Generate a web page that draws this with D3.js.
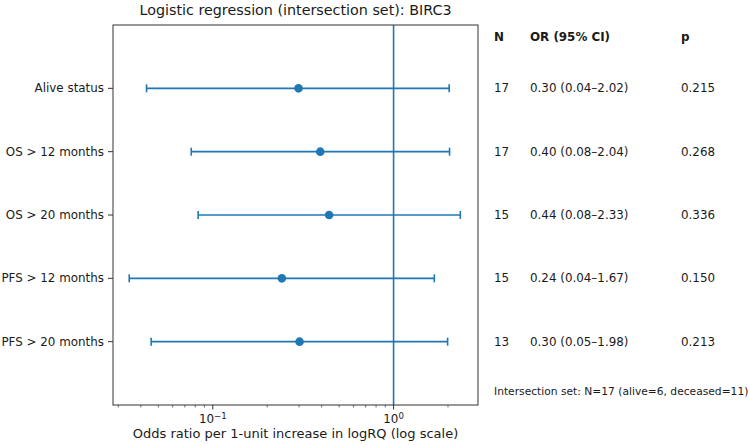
<!DOCTYPE html>
<html>
<head>
<meta charset="utf-8">
<script src="https://cdn.jsdelivr.net/npm/d3@7"></script>
<style>
  body { margin: 0; background: #fff; }
  text { font-family: "DejaVu Sans", sans-serif; fill: #1a1a1a; }
</style>
</head>
<body>
<svg id="chart"></svg>
<script>
let width = 750;
let height = 445;

// outcomes, top to bottom
let outcomes = ["Alive status", "OS > 12 months", "OS > 20 months", "PFS > 12 months", "PFS > 20 months"];
let orValues = [0.298, 0.393, 0.44, 0.241, 0.302];
let ciLow = [0.043, 0.076, 0.083, 0.0345, 0.0456];
let ciHigh = [2.03, 2.04, 2.34, 1.68, 1.99];
let nValues = ["17", "17", "15", "15", "13"];
let orText = ["0.30 (0.04–2.02)", "0.40 (0.08–2.04)", "0.44 (0.08–2.33)", "0.24 (0.04–1.67)", "0.30 (0.05–1.98)"];
let pText = ["0.215", "0.268", "0.336", "0.150", "0.213"];
let majorTicks = [0.1, 1];
let minorTicks = [0.03, 0.04, 0.05, 0.06, 0.07, 0.08, 0.09, 0.2, 0.3, 0.4, 0.5, 0.6, 0.7, 0.8, 0.9, 2];

let blue = "#1f77b4";
let plot = {left: 113, right: 478, top: 25, bottom: 405};

let svg = d3.select("#chart")
    .attr("width", width)
    .attr("height", height);

let x = d3.scaleLog()
    .domain([Math.pow(10, -1.552), Math.pow(10, 0.467)])
    .range([plot.left, plot.right]);

let y = d3.scaleLinear()
    .domain([-1, outcomes.length])
    .range([plot.top, plot.bottom]);

// title
svg.append("text")
    .attr("x", (plot.left + plot.right) / 2)
    .attr("y", 14.5)
    .attr("text-anchor", "middle")
    .style("font-size", "14.3px")
    .text("Logistic regression (intersection set): BIRC3");

// reference line at OR = 1
svg.append("line")
    .attr("x1", x(1)).attr("x2", x(1))
    .attr("y1", plot.top).attr("y2", plot.bottom)
    .attr("stroke", blue)
    .attr("stroke-width", 1.6);

// error bars
let rows = svg.append("g").selectAll("g")
    .data(outcomes)
    .join("g")
    .attr("transform", (d, i) => `translate(0,${y(i)})`);

rows.append("line")
    .attr("x1", (d, i) => x(ciLow[i]))
    .attr("x2", (d, i) => x(ciHigh[i]))
    .attr("stroke", blue)
    .attr("stroke-width", 1.6);

rows.selectAll(".cap")
    .data((d, i) => [ciLow[i], ciHigh[i]])
    .join("line")
    .attr("class", "cap")
    .attr("x1", d => x(d)).attr("x2", d => x(d))
    .attr("y1", -4).attr("y2", 4)
    .attr("stroke", blue)
    .attr("stroke-width", 1.6);

rows.append("circle")
    .attr("cx", (d, i) => x(orValues[i]))
    .attr("r", 4.3)
    .attr("fill", blue);

// frame
svg.append("rect")
    .attr("x", plot.left)
    .attr("y", plot.top)
    .attr("width", plot.right - plot.left)
    .attr("height", plot.bottom - plot.top)
    .attr("fill", "none")
    .attr("stroke", "#333")
    .attr("stroke-width", 1);

// y ticks + labels
let yAxis = svg.append("g");
yAxis.selectAll("line")
    .data(outcomes)
    .join("line")
    .attr("x1", plot.left - 5).attr("x2", plot.left)
    .attr("y1", (d, i) => y(i)).attr("y2", (d, i) => y(i))
    .attr("stroke", "#333");
yAxis.selectAll("text")
    .data(outcomes)
    .join("text")
    .attr("x", plot.left - 9)
    .attr("y", (d, i) => y(i))
    .attr("dy", "0.35em")
    .attr("text-anchor", "end")
    .style("font-size", "11.9px")
    .text(d => d);

// x axis: major and minor ticks
let xAxis = svg.append("g");
xAxis.selectAll(".minor")
    .data(minorTicks)
    .join("line")
    .attr("class", "minor")
    .attr("x1", d => x(d)).attr("x2", d => x(d))
    .attr("y1", plot.bottom).attr("y2", plot.bottom + 2.5)
    .attr("stroke", "#333")
    .attr("stroke-width", 0.7);
xAxis.selectAll(".major")
    .data(majorTicks)
    .join("line")
    .attr("class", "major")
    .attr("x1", d => x(d)).attr("x2", d => x(d))
    .attr("y1", plot.bottom).attr("y2", plot.bottom + 4.5)
    .attr("stroke", "#333");
let tickLabels = xAxis.selectAll(".ticklabel")
    .data(majorTicks)
    .join("text")
    .attr("class", "ticklabel")
    .attr("x", d => x(d))
    .attr("y", plot.bottom + 18)
    .attr("text-anchor", "middle")
    .style("font-size", "11.9px");
tickLabels.append("tspan").text("10");
tickLabels.append("tspan")
    .attr("dy", "-0.45em")
    .style("font-size", "8.6px")
    .text(d => d3.format("d")(Math.log10(d)).replace("-", "−"));

svg.append("text")
    .attr("x", (plot.left + plot.right) / 2)
    .attr("y", plot.bottom + 33)
    .attr("text-anchor", "middle")
    .style("font-size", "13px")
    .text("Odds ratio per 1-unit increase in logRQ (log scale)");

// table on the right
let cols = [{x: 494, head: "N", vals: nValues},
            {x: 530, head: "OR (95% CI)", vals: orText},
            {x: 681, head: "p", vals: pText}];
let table = svg.append("g");
cols.forEach(c => {
    table.append("text")
        .attr("x", c.x)
        .attr("y", 37)
        .attr("dy", "0.35em")
        .style("font-size", "11.9px")
        .style("font-weight", "bold")
        .text(c.head);
    table.selectAll(null)
        .data(c.vals)
        .join("text")
        .attr("x", c.x)
        .attr("y", (d, i) => y(i))
        .attr("dy", "0.35em")
        .style("font-size", "11.9px")
        .text(d => d);
});

svg.append("text")
    .attr("x", 494)
    .attr("y", 391)
    .attr("dy", "0.35em")
    .style("font-size", "10.7px")
    .text("Intersection set: N=17 (alive=6, deceased=11)");
</script>
</body>
</html>
